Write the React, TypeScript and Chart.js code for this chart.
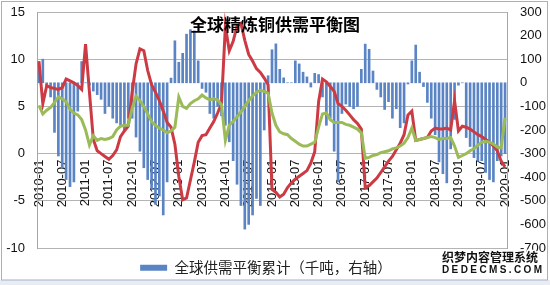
import React, { useEffect, useRef } from 'react';
import { Chart, registerables } from 'chart.js';

Chart.register(...registerables);

const categories: string[] = [
  '2010-01','2010-02','2010-03','2010-04','2010-05','2010-06','2010-07','2010-08','2010-09','2010-10','2010-11','2010-12',
  '2011-01','2011-02','2011-03','2011-04','2011-05','2011-06','2011-07','2011-08','2011-09','2011-10','2011-11','2011-12',
  '2012-01','2012-02','2012-03','2012-04','2012-05','2012-06','2012-07','2012-08','2012-09','2012-10','2012-11','2012-12',
  '2013-01','2013-02','2013-03','2013-04','2013-05','2013-06','2013-07','2013-08','2013-09','2013-10','2013-11','2013-12',
  '2014-01','2014-02','2014-03','2014-04','2014-05','2014-06','2014-07','2014-08','2014-09','2014-10','2014-11','2014-12',
  '2015-01','2015-02','2015-03','2015-04','2015-05','2015-06','2015-07','2015-08','2015-09','2015-10','2015-11','2015-12',
  '2016-01','2016-02','2016-03','2016-04','2016-05','2016-06','2016-07','2016-08','2016-09','2016-10','2016-11','2016-12',
  '2017-01','2017-02','2017-03','2017-04','2017-05','2017-06','2017-07','2017-08','2017-09','2017-10','2017-11','2017-12',
  '2018-01','2018-02','2018-03','2018-04','2018-05','2018-06','2018-07','2018-08','2018-09','2018-10','2018-11','2018-12',
  '2019-01','2019-02','2019-03','2019-04','2019-05','2019-06','2019-07','2019-08','2019-09','2019-10','2019-11','2019-12',
  '2020-01',
];

// 全球供需平衡累计（千吨，右轴）
const balanceCumulative: number[] = [
  80, 100, -20, -60, -210, -310, -360, -410, -440, -420, -120, 90,
  0, -10, -35, -50, -70, -130, -100, -150, -170, -180, -200, -150,
  -150, -230, -290, -360, -410, -450, -515, -480, -560, -420, 20, 178,
  87, 125, 206, 225, 220, 93, -24, -40, -130, -150, -100, -140,
  -180, -250, -330, -430, -520, -620, -600, -560, -490, -520, -200, 30,
  140, 165, 57, 21, 0, 0, 93, 80, 45, 25, -18, 40,
  35, -60, -180, -150, -290, -420, -130, -90, -100, -110, -100, 57,
  164, 142, 50, -28, -60, -113, -80, -150, -110, -190, -170, -5,
  93, 160, 45, -16, -83, -150, -220, -335, -385, -424, -280, -155,
  -10, 0, -232, -270, -317, -330, -330, -380, -410, -420, -330, -310,
  -300,
];

// red line (left axis)
const redSeries: number[] = [
  9.8, 5.3, 7.2, 7.0, 6.9, 6.8, 7.0, 7.9, 7.7, 7.5, 7.2, 6.8,
  11.6, 6.5, 1.5, 0.3, 0.0, -0.3, -0.6, -0.2, 0.4, 1.8, 2.4, 2.9,
  6.5, 9.5, 11.1, 10.9, 8.8, 7.3, 6.5, 5.6, 4.5, 3.3, 2.8, 1.0,
  -2.4, -4.9, -4.7, -2.8, -0.9, 1.2, 1.9, 2.0, 2.7, 3.4, 4.3, 5.3,
  13.5, 10.9, 11.9, 13.5, 13.8, 12.0, 10.5, 9.8, 9.0, 8.6, 8.0, 7.3,
  -3.8, -4.1, -4.6, -4.3, -3.6, -3.1, -2.7, -2.4, -2.1, -1.8, -1.0, 0.2,
  5.5, 7.9, 7.6, 7.1, 6.6, 5.3, 5.0, 4.6, 4.1, 3.6, 3.2, 2.6,
  -3.6, -3.4, -3.0, -2.6, -2.0, -1.4, -0.8, -0.3, 0.4, 1.1, 2.0, 4.1,
  4.5, 1.4, 1.5, 1.6, 1.7, 2.4, 2.7, 2.6, 2.6, 2.7, 2.5, 5.6,
  2.4, 2.9, 2.8, 2.6, 2.3, 2.0, 1.8, 1.5, 1.2, 0.8, 0.3, -0.8,
  -1.4,
];

// green line (left axis)
const greenSeries: number[] = [
  5.1, 4.2, 4.6, 4.9, 5.4, 6.0, 5.8, 5.5, 4.7, 4.3, 4.1, 3.6,
  2.5, 0.9, 1.9, 1.4, 1.6, 1.5, 1.6, 1.8, 2.5, 2.9, 3.0, 3.0,
  4.8, 6.1, 5.6, 5.0, 4.2, 3.4, 3.0, 2.7, 2.5, 2.2, 2.4, 2.8,
  6.0, 5.0, 4.8, 5.3, 5.6, 5.8, 6.2, 5.9, 5.7, 5.8, 5.7, 5.2,
  1.4, 3.0, 3.4, 3.9, 4.4, 5.0, 5.6, 6.1, 6.5, 6.7, 6.6, 6.4,
  4.3, 3.0, 2.3, 2.1, 2.0, 1.6, 1.3, 1.0, 0.8, 0.8, 1.0, 1.2,
  2.8, 4.2, 4.3, 3.6, 3.3, 3.3, 3.3, 3.1, 3.0, 2.8, 2.6, 2.2,
  -0.5, -0.4, -0.2, -0.1, 0.1, 0.2, 0.3, 0.5, 0.6, 0.8, 1.1, 1.7,
  2.7, 1.4, 1.5, 1.6, 1.7, 1.8, 1.7, 1.5, 1.6, 1.6, 1.7, 0.8,
  -0.4, -0.2, 0.0, 0.3, 0.5, 0.9, 1.2, 1.3, 1.2, 1.0, 0.7, 0.6,
  3.8,
];

const chartTitle = '全球精炼铜供需平衡图';
const barLabel = '全球供需平衡累计（千吨，右轴）';
const watermarkLine1 = '织梦内容管理系统';
const watermarkLine2 = 'DEDECMS.COM';

const W = 550;
const H = 285;

const decorPlugin = {
  id: 'decor',
  afterLayout(chart: any) {
    const lg = chart.legend;
    if (lg) {
      lg.left -= 9;
      lg.right -= 9;
    }
  },
  beforeDraw(chart: any) {
    const ctx = chart.ctx;
    ctx.save();
    ctx.fillStyle = '#ffffff';
    ctx.fillRect(0, 0, W, H);
    ctx.fillStyle = '#e9edf2';
    ctx.fillRect(0, 280, W, H - 280);
    ctx.strokeStyle = '#9fb2cc';
    ctx.lineWidth = 1;
    ctx.strokeRect(1.5, 1.5, 546, 278.5);
    ctx.restore();
  },
  afterDraw(chart: any) {
    const ctx = chart.ctx;
    ctx.save();
    ctx.fillStyle = '#000';
    ctx.font = 'bold 17px "Noto Sans CJK SC"';
    ctx.textAlign = 'center';
    ctx.textBaseline = 'middle';
    ctx.fillText(chartTitle, 275, 25);

    ctx.textAlign = 'left';
    ctx.font = 'bold 12px "Noto Sans CJK SC"';
    ctx.lineWidth = 3;
    ctx.strokeStyle = '#ffffff';
    ctx.lineJoin = 'round';
    ctx.strokeText(watermarkLine1, 442, 257);
    ctx.fillStyle = '#111';
    ctx.fillText(watermarkLine1, 442, 257);
    ctx.font = 'bold 10px "Liberation Sans"';
    (ctx as any).letterSpacing = '2.4px';
    ctx.strokeText(watermarkLine2, 442, 270);
    ctx.fillText(watermarkLine2, 442, 270);
    (ctx as any).letterSpacing = '0px';
    ctx.restore();
  },
};

const fixAxisBox = (s: any, width: number) => {
  s.width = width;
  s.paddingTop = 0;
  s.paddingBottom = 0;
};

export default function App() {
  const canvasRef = useRef<HTMLCanvasElement | null>(null);

  useEffect(() => {
    if (!canvasRef.current) return;
    const chart = new Chart(canvasRef.current, {
      type: 'bar',
      data: {
        labels: categories,
        datasets: [
          {
            type: 'bar',
            label: barLabel,
            data: balanceCumulative,
            yAxisID: 'y1',
            backgroundColor: '#5a84c4',
            borderWidth: 0,
            barThickness: 2,
            order: 3,
          },
          {
            type: 'line',
            label: '系列2',
            data: redSeries,
            yAxisID: 'y',
            borderColor: '#cc3a44',
            backgroundColor: '#cc3a44',
            borderWidth: 3,
            pointRadius: 0,
            tension: 0,
            order: 2,
          },
          {
            type: 'line',
            label: '系列3',
            data: greenSeries,
            yAxisID: 'y',
            borderColor: '#9bbb59',
            backgroundColor: '#9bbb59',
            borderWidth: 3,
            pointRadius: 0,
            tension: 0,
            order: 1,
          },
        ] as any,
      },
      options: {
        responsive: false,
        animation: false,
        devicePixelRatio: 1,
        layout: { padding: { top: 12, left: 0, right: 0, bottom: 0 } },
        plugins: {
          title: { display: false },
          tooltip: { enabled: false },
          legend: {
            display: true,
            position: 'bottom',
            fullSize: true,
            labels: {
              boxWidth: 27,
              boxHeight: 6,
              padding: 12.5,
              color: '#222',
              font: { family: '"Noto Sans CJK SC"', size: 14.5 },
              filter: (item: any) => item.datasetIndex === 0,
            },
          },
        },
        scales: {
          x: {
            position: { y: 0 } as any,
            offset: true,
            grid: { display: false, drawTicks: false },
            border: { display: false },
            ticks: {
              autoSkip: false,
              minRotation: 90,
              maxRotation: 90,
              padding: 6,
              color: '#111',
              font: { family: '"Liberation Sans"', size: 13 },
              callback: (_v: any, i: number) => (i % 6 === 0 ? categories[i] : null),
            },
          },
          y: {
            position: 'left',
            min: -10,
            max: 15,
            grid: { color: '#b4b4b4', drawTicks: false },
            border: { display: true, color: '#a6a6a6' },
            ticks: {
              stepSize: 5,
              padding: 12,
              color: '#111',
              font: { family: '"Liberation Sans"', size: 13 },
            },
            afterFit: (s: any) => fixAxisBox(s, 37),
          },
          y1: {
            position: 'right',
            min: -700,
            max: 300,
            grid: { display: false, drawTicks: false },
            border: { display: true, color: '#a6a6a6' },
            ticks: {
              stepSize: 100,
              padding: 13,
              color: '#111',
              font: { family: '"Liberation Sans"', size: 13 },
            },
            afterFit: (s: any) => fixAxisBox(s, 43),
          },
        },
      } as any,
      plugins: [decorPlugin],
    });
    return () => chart.destroy();
  }, []);

  return (
    <div style={{ position: 'fixed', left: 0, top: 0, width: W, height: H, background: '#fff' }}>
      <canvas ref={canvasRef} width={W} height={H} style={{ display: 'block' }} />
    </div>
  );
}
